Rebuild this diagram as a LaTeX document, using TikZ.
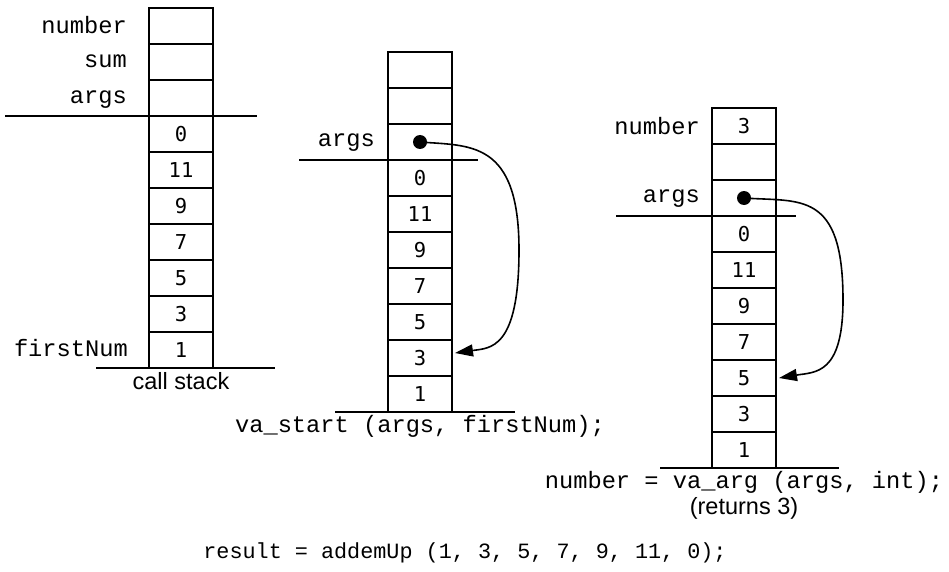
\documentclass[tikz,border=0pt]{standalone}
\usepackage{fontspec}
\setmainfont{Liberation Sans}
\setmonofont{Liberation Mono}
\newfontfamily\numfont{DejaVu Sans Mono}
\usetikzlibrary{positioning,arrows.meta}

\begin{document}
\begin{tikzpicture}[x=1pt, y=-1pt, node distance=0pt,
  cell/.style = {draw, line width=1.8pt, outer sep=0pt, inner sep=0pt, minimum width=64pt, minimum height=36pt, font=\numfont\fontsize{20.5}{20}\selectfont},
  var/.style = {inner sep=0pt, font=\ttfamily\fontsize{23.7}{24}\selectfont},
  code/.style = {inner sep=0pt, font=\ttfamily\fontsize{23.7}{24}\selectfont},
  note/.style = {inner sep=0pt, font=\fontsize{23.5}{24}\selectfont},
  floor/.style = {line width=1.5pt},
  ptr/.style = {line width=1.6pt, -{Triangle[length=18pt,width=12pt]}}]
\useasboundingbox (0,0) rectangle (949,572);

% call stack
\node[cell] (a1) at (181,26) {};
\node[cell] (a2) [below=of a1] {};
\node[cell] (a3) [below=of a2] {};
\node[cell] (a4) [below=of a3] {0};
\node[cell] (a5) [below=of a4] {11};
\node[cell] (a6) [below=of a5] {9};
\node[cell] (a7) [below=of a6] {7};
\node[cell] (a8) [below=of a7] {5};
\node[cell] (a9) [below=of a8] {3};
\node[cell] (a10) [below=of a9] {1};
\node[var] (anum) [left=22pt of a1, yshift=1pt] {number};
\node[var] (asum) [left=22pt of a2, yshift=1pt] {sum};
\node[var] (aargs) [left=22pt of a3, yshift=-2pt] {args};
\node[var] (afirst) [left=21pt of a10, yshift=2pt] {firstNum};
\draw[floor] (a3.south west) ++(-144,0) -- ++(252,0);
\draw[floor] (a10.south west) ++(-53,0) -- ++(179,0);
\node[note] (acap) [below=4pt of a10] {call stack};

% after va_start
\node[cell] (b1) at (420,70) {};
\node[cell] (b2) [below=of b1] {};
\node[cell] (b3) [below=of b2] {};
\node[cell] (b4) [below=of b3] {0};
\node[cell] (b5) [below=of b4] {11};
\node[cell] (b6) [below=of b5] {9};
\node[cell] (b7) [below=of b6] {7};
\node[cell] (b8) [below=of b7] {5};
\node[cell] (b9) [below=of b8] {3};
\node[cell] (b10) [below=of b9] {1};
\node[var] (bargs) [left=13pt of b3, yshift=-1pt] {args};
\draw[floor] (b3.south west) ++(-89,0) -- ++(179,0);
\draw[floor] (b10.south west) ++(-53,0) -- ++(180,0);
\fill (b3.center) circle (7pt);
\draw[ptr] (b3.center) .. controls (470,146) and (519,140) .. (519,250)
  .. controls (519,350) and (490,348) .. ([shift={(3,-5)}]b9.east);
\node[code] (bcap) [below=3pt of b10] {va\_start (args, firstNum);};

% after va_arg
\node[cell] (c1) at (744,126) {3};
\node[cell] (c2) [below=of c1] {};
\node[cell] (c3) [below=of c2] {};
\node[cell] (c4) [below=of c3] {0};
\node[cell] (c5) [below=of c4] {11};
\node[cell] (c6) [below=of c5] {9};
\node[cell] (c7) [below=of c6] {7};
\node[cell] (c8) [below=of c7] {5};
\node[cell] (c9) [below=of c8] {3};
\node[cell] (c10) [below=of c9] {1};
\node[var] (cnum) [left=12pt of c1] {number};
\node[var] (cargs) [left=12pt of c3, yshift=-1pt] {args};
\draw[floor] (c3.south west) ++(-96,0) -- ++(180,0);
\draw[floor] (c10.south west) ++(-52,0) -- ++(179,0);
\fill (c3.center) circle (7pt);
\draw[ptr] (c3.center) .. controls (800,202) and (843,190) .. (843,300)
  .. controls (843,375) and (815,372) .. ([xshift=3pt]c8.east);
\node[code] (ccap) [below=3pt of c10] {number = va\_arg (args, int);};
\node[note] (cret) [below=4pt of ccap] {(returns 3)};

\node[code, font=\ttfamily\fontsize{21.8}{22}\selectfont] (call) at (465,553) {result = addemUp (1, 3, 5, 7, 9, 11, 0);};
\end{tikzpicture}
\end{document}
